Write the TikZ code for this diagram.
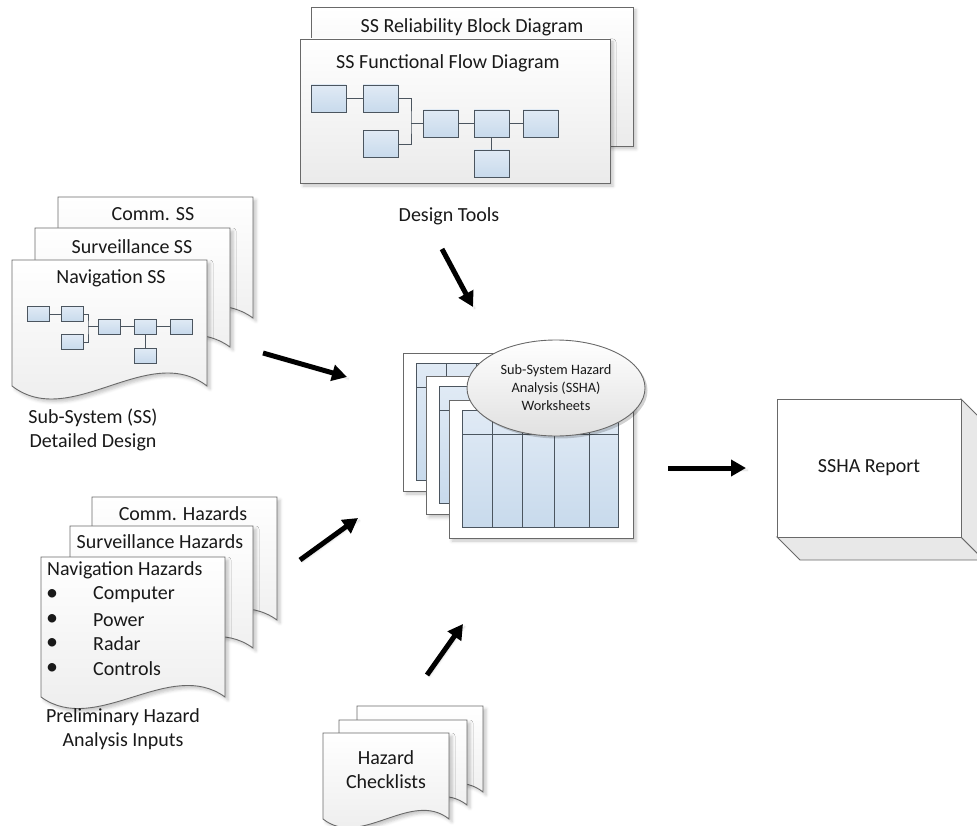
\documentclass[tikz,border=0pt]{standalone}
\usepackage{fontspec}
\setmainfont{Carlito}
\usetikzlibrary{arrows.meta,shadows,shadows.blur,calc,shapes.geometric}
\definecolor{edge}{RGB}{105,105,105}
\definecolor{boxedge}{RGB}{75,85,95}
\definecolor{bluetop}{RGB}{224,234,245}
\definecolor{bluebot}{RGB}{200,218,236}
\definecolor{txt}{RGB}{25,25,25}
\definecolor{sidegray}{RGB}{232,232,232}
\tikzset{
  shade/.style={blur shadow={shadow xshift=3pt,shadow yshift=-3pt,shadow opacity=22,shadow blur radius=3pt}},
  paper/.style={draw=edge,line width=0.9pt,top color=white,bottom color=black!8,shade},
  flat/.style={draw=edge,line width=0.9pt,fill=white,shade},
  fbox/.style={draw=boxedge,line width=0.8pt,top color=bluetop,bottom color=bluebot,minimum width=35pt,minimum height=27pt,inner sep=0pt},
  sbox/.style={draw=boxedge,line width=0.7pt,top color=bluetop,bottom color=bluebot,minimum width=22pt,minimum height=15pt,inner sep=0pt},
  wire/.style={draw=boxedge,line width=0.8pt},
  lbl/.style={font=\fontsize{20}{24}\selectfont,text=txt,inner sep=0pt,align=center},
  bigarrow/.style={line width=5pt,-{Triangle[length=15pt,width=16pt]},black,
     blur shadow={shadow xshift=2pt,shadow yshift=-2pt,shadow opacity=18,shadow blur radius=2pt}},
}
\newcommand{\docshape}[5]{%
  \path[paper] (#1,#2) -- (#3,#2) -- (#3,#4)
    .. controls ({#1+0.7*(#3-#1)},{#4-#5}) and ({#1+0.3*(#3-#1)},{#4+#5}) .. (#1,#4) -- cycle;}
\newcommand{\wsheet}[2]{%
  \path[flat] (#1,#2) rectangle ++(184,138);
  \path[draw=boxedge,line width=0.8pt,top color=bluetop,bottom color=bluebot] ({#1+13.5},{#2+10}) rectangle ++(156,117);
  \draw[wire] ({#1+13.5},{#2+34}) -- ++(156,0);
  \foreach \cx in {30,60,92,127} {\draw[wire] ({#1+13.5+\cx},{#2+10}) -- ++(0,117);}}
\begin{document}
\begin{tikzpicture}[x=1pt,y=-1pt]
\useasboundingbox (0,0) rectangle (977,826);

% ---------------- Design tools ----------------
\path[paper] (311,7) rectangle (633,146);
\node[lbl] (rbd) at (472,27) {SS Reliability Block Diagram};
\path[paper] (300,39) rectangle (610,183);
\node[lbl] (ffd) at (448,63) {SS Functional Flow Diagram};
\node[fbox] (d1) at (328.5,98.5) {};
\node[fbox] (d2) at (380.5,98.5) {};
\node[fbox] (d3) at (380.5,144) {};
\node[fbox] (d4) at (441,123.5) {};
\node[fbox] (d5) at (491.5,123.5) {};
\node[fbox] (d6) at (540.5,123.5) {};
\node[fbox] (d7) at (491.5,163.5) {};
\coordinate (dj) at (411,123.5);
\draw[wire] (d1.east) -- (d2.west);
\draw[wire] (d2.east) -| (dj) |- (d3.east);
\draw[wire] (dj) -- (d4.west);
\draw[wire] (d4.east) -- (d5.west);
\draw[wire] (d5.east) -- (d6.west);
\draw[wire] (d5.south) -- (d7.north);
\node[lbl] (dtools) at (449,216) {Design Tools};

% ---------------- Sub-system detailed design ----------------
\docshape{58}{197}{253}{318}{42}
\node[lbl] (comm) at (153,214) {Comm. SS};
\docshape{35}{228}{230}{347}{42}
\node[lbl] (surv) at (132,247) {Surveillance SS};
\docshape{12}{260}{207}{386}{45}
\node[lbl] (nav) at (111,278) {Navigation SS};
\node[sbox] (n1) at (38,314) {};
\node[sbox] (n2) at (72.5,314) {};
\node[sbox] (n3) at (72.5,342) {};
\node[sbox] (n4) at (109.5,326.5) {};
\node[sbox] (n5) at (145.5,326.5) {};
\node[sbox] (n6) at (181.5,326.5) {};
\node[sbox] (n7) at (145.5,355.5) {};
\coordinate (nj) at (88,326.5);
\draw[wire] (n1.east) -- (n2.west);
\draw[wire] (n2.east) -| (nj) |- (n3.east);
\draw[wire] (nj) -- (n4.west);
\draw[wire] (n4.east) -- (n5.west);
\draw[wire] (n5.east) -- (n6.west);
\draw[wire] (n5.south) -- (n7.north);
\node[lbl] (ssdd) at (93,430) {Sub-System (SS)\\Detailed Design};

% ---------------- Preliminary hazards ----------------
\docshape{92}{497}{277}{620}{40}
\node[lbl] (ch) at (183,514) {Comm. Hazards};
\docshape{70}{526}{253}{648}{40}
\node[lbl] (sh) at (160,542) {Surveillance Hazards};
\docshape{41}{557}{225}{697}{40}
\node[lbl,anchor=west] (nh) at (47,570) {Navigation Hazards};
\foreach \name/\yy/\item in {h1/595/Computer,h2/620/Power,h3/644/Radar,h4/669/Controls}{
  \node[lbl,font=\fontsize{24}{24}\selectfont] (\name b) at (52,\yy) {\textbullet};
  \node[lbl,anchor=west] (\name) at (93,\yy) {\item};
}
\node[lbl] (pha) at (123,729) {Preliminary Hazard\\Analysis Inputs};

% ---------------- Hazard checklists ----------------
\docshape{357}{706}{483}{792}{30}
\docshape{339}{720}{467}{805}{30}
\docshape{323}{733}{449}{819}{30}
\node[lbl] (hc) at (386,770) {Hazard\\Checklists};

% ---------------- SSHA worksheets ----------------
\wsheet{403}{353}
\wsheet{426}{376.5}
\wsheet{449}{400}
\node[draw=edge,line width=0.9pt,ellipse,top color=white,bottom color=black!12,
      minimum width=178pt,minimum height=96pt,inner sep=0pt,
      font=\fontsize{14.3}{18}\selectfont,text=txt,align=center,
      drop shadow={shadow xshift=2.5pt,shadow yshift=-2.5pt,opacity=0.18,fill=black}] (ws) at (556,388)
      {Sub-System Hazard\\Analysis (SSHA)\\Worksheets};

% ---------------- SSHA report ----------------
\path[draw=edge,line width=0.9pt,fill=sidegray] (777,537) -- (800,560) -- (984,560) -- (961,537) -- cycle;
\path[draw=edge,line width=0.9pt,fill=sidegray] (961,399) -- (984,422) -- (984,560) -- (961,537) -- cycle;
\node[draw=edge,line width=0.9pt,fill=white,minimum width=184pt,minimum height=138pt,inner sep=0pt,
      font=\fontsize{20}{24}\selectfont,text=txt] (rep) at (869,468) {SSHA Report};

% ---------------- Arrows ----------------
\coordinate (a1s) at (442,249); \coordinate (a1e) at (473,307);
\coordinate (a2s) at (263,353); \coordinate (a2e) at (347,377);
\coordinate (a3s) at (300,560); \coordinate (a3e) at (358,518);
\coordinate (a4s) at (427,675); \coordinate (a4e) at (463,624);
\coordinate (a5s) at (668,468); \coordinate (a5e) at (746,468);
\draw[bigarrow] (a1s) -- (a1e);
\draw[bigarrow] (a2s) -- (a2e);
\draw[bigarrow] (a3s) -- (a3e);
\draw[bigarrow] (a4s) -- (a4e);
\draw[bigarrow] (a5s) -- (a5e);
\end{tikzpicture}
\end{document}
